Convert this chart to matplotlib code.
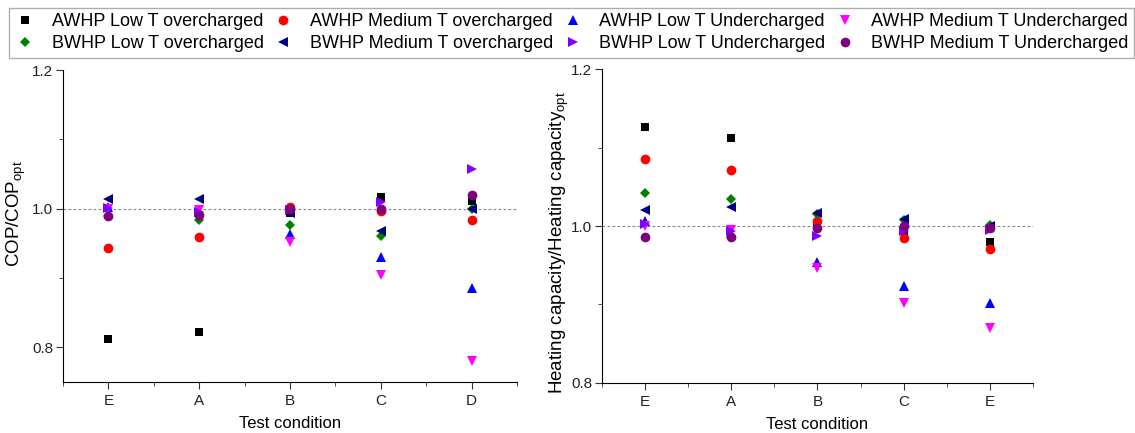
import matplotlib
matplotlib.use("Agg")
import matplotlib.pyplot as plt

plt.rcParams['font.family'] = ['Liberation Sans', 'DejaVu Sans']

left_conditions = ["E", "A", "B", "C", "D"]
right_conditions = ["E", "A", "B", "C", "E"]

series_names = [
    "AWHP Low T overcharged", "AWHP Medium T overcharged",
    "AWHP Low T Undercharged", "AWHP Medium T Undercharged",
    "BWHP Low T overcharged", "BWHP Medium T overcharged",
    "BWHP Low T Undercharged", "BWHP Medium T Undercharged",
]
series_markers = ["s", "o", "^", "v", "D", "<", ">", "o"]
series_colors = ["#000000", "#ff0000", "#0000ff", "#ff00ff",
                 "#008000", "#000080", "#8000ff", "#800080"]

# COP / COP_opt  (E, A, B, C, D)
cop_awhp_low_over = [0.812, 0.822, 0.994, 1.017, 1.011]
cop_awhp_med_over = [0.943, 0.959, 1.002, 0.997, 0.983]
cop_awhp_low_under = [1.003, 0.995, 0.963, 0.931, 0.886]
cop_awhp_med_under = [1.000, 0.998, 0.952, 0.904, 0.781]
cop_bwhp_low_over = [0.989, 0.984, 0.976, 0.961, 0.999]
cop_bwhp_med_over = [1.014, 1.014, 0.994, 0.968, 1.000]
cop_bwhp_low_under = [1.0015, 0.995, 0.998, 1.010, 1.057]
cop_bwhp_med_under = [0.990, 0.991, 0.999, 1.000, 1.020]

# Heating capacity / Heating capacity_opt  (E, A, B, C, E)
hc_awhp_low_over = [1.1255, 1.112, 1.001, 0.993, 0.980]
hc_awhp_med_over = [1.085, 1.0715, 1.006, 0.985, 0.971]
hc_awhp_low_under = [1.007, 0.9915, 0.954, 0.924, 0.9025]
hc_awhp_med_under = [1.000, 0.995, 0.946, 0.9025, 0.870]
hc_bwhp_low_over = [1.042, 1.0345, 1.015, 1.008, 1.001]
hc_bwhp_med_over = [1.021, 1.024, 1.017, 1.009, 1.000]
hc_bwhp_low_under = [1.0025, 0.993, 0.987, 0.993, 0.995]
hc_bwhp_med_under = [0.986, 0.986, 0.997, 1.000, 0.998]

cop_series = [cop_awhp_low_over, cop_awhp_med_over, cop_awhp_low_under, cop_awhp_med_under,
              cop_bwhp_low_over, cop_bwhp_med_over, cop_bwhp_low_under, cop_bwhp_med_under]
hc_series = [hc_awhp_low_over, hc_awhp_med_over, hc_awhp_low_under, hc_awhp_med_under,
             hc_bwhp_low_over, hc_bwhp_med_over, hc_bwhp_low_under, hc_bwhp_med_under]

fig = plt.figure(figsize=(11.35, 4.33), dpi=100)
ax1 = fig.add_axes([0.0555, 0.1178, 0.400, 0.7205])
ax2 = fig.add_axes([0.5304, 0.1155, 0.3797, 0.7251])

def draw(ax, series, labels, ylim, yticks, yminor, ylabel, label_xy):
    x = list(range(1, len(labels) + 1))
    ax.axhline(1.0, color="#888888", linestyle=(0, (2.5, 2)), lw=0.8, zorder=1)
    handles = []
    for name, vals, m, c in zip(series_names, series, series_markers, series_colors):
        ms = 6 if m in ("s", "D") else 7
        if m == "D":
            ms = 5.5
        h, = ax.plot(x, vals, linestyle="none", marker=m, color=c, markersize=ms,
                     markeredgewidth=0, label=name, zorder=3)
        handles.append(h)
    ax.set_xlim(0.5, len(labels) + 0.5)
    ax.set_ylim(*ylim)
    ax.set_xticks(x)
    ax.set_xticklabels(labels)
    ax.set_xticks([i + 0.5 for i in range(0, len(labels) + 1)], minor=True)
    ax.set_yticks(yticks)
    ax.set_yticklabels([f"{t:.1f}" for t in yticks])
    ax.set_yticks(yminor, minor=True)
    for s in ("top", "right"):
        ax.spines[s].set_visible(False)
    ax.tick_params(which="major", direction="out", length=5, labelsize=11, color="#333333",
                   labelcolor="#222222")
    ax.tick_params(axis="y", which="major", pad=2)
    ax.tick_params(which="minor", direction="out", length=3, color="#333333")
    ax.set_xlabel("Test condition", fontsize=12, labelpad=6)
    ax.set_ylabel(ylabel, fontsize=13.5)
    ax.yaxis.set_label_coords(*label_xy)
    return handles

handles = draw(ax1, cop_series, left_conditions, (0.75, 1.2), [0.8, 1.0, 1.2], [0.9, 1.1],
               "COP/COP$_{\\mathregular{opt}}$", (-0.077, 0.54))
draw(ax2, hc_series, right_conditions, (0.8, 1.2), [0.8, 1.0, 1.2], [0.9, 1.1],
     "Heating capacity/Heating capacity$_{\\mathregular{opt}}$", (-0.072, 0.447))

order = [0, 4, 1, 5, 2, 6, 3, 7]
leg = fig.legend([handles[i] for i in order], [series_names[i] for i in order],
                 ncol=4, loc="upper left", bbox_to_anchor=(0.008, 0.880, 0.991, 0.1015),
                 mode="expand", fontsize=13, frameon=True, fancybox=False,
                 edgecolor="#999999", handletextpad=0.85, borderaxespad=0.0,
                 borderpad=0.3, labelspacing=0.28, handlelength=1.2, columnspacing=1.0)
leg.get_frame().set_linewidth(1.0)

fig.savefig("out.png", dpi=100)
